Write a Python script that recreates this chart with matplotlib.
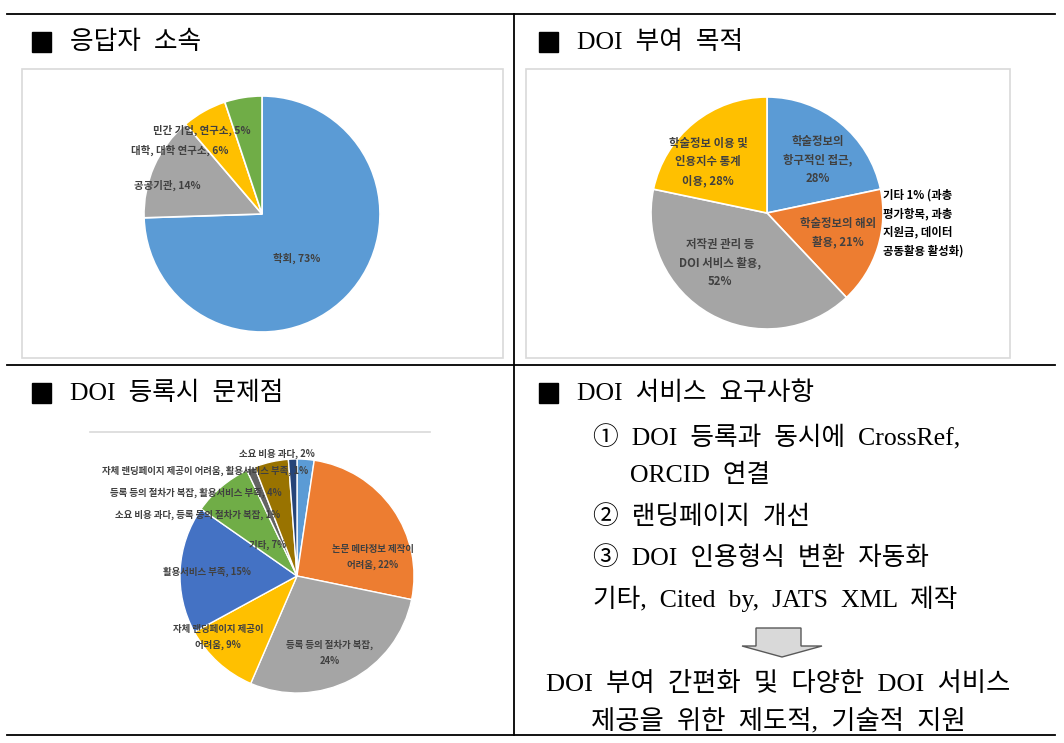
import matplotlib
matplotlib.use("Agg")
import matplotlib.pyplot as plt
from matplotlib.patches import Rectangle, Polygon

plt.rcParams['font.family'] = ['Noto Sans CJK KR', 'DejaVu Sans']

# ---------------- data ----------------
p1_labels = ['학회', '공공기관', '대학, 대학 연구소', '민간 기업, 연구소']
p1_values = [73, 14, 6, 5]

p2_labels = ['학술정보의\n항구적인 접근,\n28%', '학술정보의 해외\n활용, 21%',
             '저작권 관리 등\nDOI 서비스 활용,\n52%', '학술정보 이용 및\n인용지수 통계\n이용, 28%']
p2_values = [28, 21, 52, 28]
p2_note = '기타 1% (과총\n평가항목, 과총\n지원금, 데이터\n공동활용 활성화)'

p3_labels = ['소요 비용 과다', '논문 메타정보 제작이\n어려움', '등록 등의 절차가 복잡,\n',
             '자체 랜딩페이지 제공이\n어려움', '활용서비스 부족', '기타',
             '소요 비용 과다, 등록 등의 절차가 복잡', '등록 등의 절차가 복잡, 활용서비스 부족',
             '자체 랜딩페이지 제공이 어려움, 활용서비스 부족']
p3_values = [2, 22, 24, 9, 15, 7, 1, 4, 1]

headers = ['응답자 소속', 'DOI 부여 목적', 'DOI 등록시 문제점', 'DOI 서비스 요구사항']
req_lines = ['① DOI 등록과 동시에 CrossRef,', 'ORCID 연결', '② 랜딩페이지 개선',
             '③ DOI 인용형식 변환 자동화', '기타, Cited by, JATS XML 제작']
conclusion = ['DOI 부여 간편화 및 다양한 DOI 서비스', '제공을 위한 제도적, 기술적 지원']

# ---------------- styles / layout ----------------
W, H = 1064, 743
fig = plt.figure(figsize=(W / 100, H / 100), dpi=100)
fig.patch.set_facecolor('white')

ov = fig.add_axes([0, 0, 1, 1])
ov.set_xlim(0, W)
ov.set_ylim(H, 0)
ov.axis('off')
ov.set_zorder(10)
ov.patch.set_alpha(0)

office = {'blue': '#5B9BD5', 'orange': '#ED7D31', 'gray': '#A5A5A5', 'yellow': '#FFC000',
          'dblue': '#4472C4', 'green': '#70AD47', 'dgray': '#636363', 'olive': '#997300',
          'navy': '#264478'}
lab_col = '#404040'
serif = ['Liberation Serif', 'Noto Sans CJK KR']
big = 18.5


def wide(s):
    # Korean document typesetting uses wide word spacing
    return s.replace(' ', '  ')


def pie_axes(cx, cy, r):
    return fig.add_axes([(cx - r) / W, 1 - (cy + r) / H, 2 * r / W, 2 * r / H])


def finish(ax):
    ax.set_xlim(-1, 1)
    ax.set_ylim(-1, 1)
    ax.set_aspect('equal', adjustable='datalim')
    ax.axis('off')


# table lines
lw = 1.3
for y in (14, 365, 735):
    ov.plot([7, 1055], [y, y], color='black', lw=lw)
ov.plot([514, 514], [14, 735], color='black', lw=lw)

# headers
hdr_pos = [(32, 42), (539, 42), (32, 393), (539, 393)]
for (x, y), t in zip(hdr_pos, headers):
    ov.add_patch(Rectangle((x, y - 10), 19, 20, color='black'))
    ov.text(x + 38, y, wide(t), fontsize=big, family=serif, va='center', ha='left')

# chart boxes
for (x0, y0, x1, y1) in [(22, 69, 503, 358), (526, 69, 1010, 358)]:
    ov.add_patch(Rectangle((x0, y0), x1 - x0, y1 - y0, fill=False, ec='#D9D9D9', lw=1.2))
ov.plot([90, 430], [432, 432], color='#D9D9D9', lw=1.2)

# ---- pie 1 ----
ax1 = pie_axes(262, 214, 118)
ax1.pie(p1_values, startangle=90, counterclock=False,
        colors=[office['blue'], office['gray'], office['yellow'], office['green']],
        wedgeprops=dict(edgecolor='white', linewidth=1.2))
finish(ax1)
p1_pos = [(297, 258), (167, 185), (180, 150), (202, 130)]
for (x, y), lab, v in zip(p1_pos, p1_labels, p1_values):
    ov.text(x, y, f'{lab}, {v}%', fontsize=7.5, weight='bold', color=lab_col,
            ha='center', va='center')

# ---- pie 2 ----
ax2 = pie_axes(767, 213, 116)
ax2.pie(p2_values, startangle=90, counterclock=False,
        colors=[office['blue'], office['orange'], office['gray'], office['yellow']],
        wedgeprops=dict(edgecolor='white', linewidth=1.2))
finish(ax2)
p2_pos = [(818, 160), (838, 233), (720, 263), (708, 162)]
for (x, y), lab in zip(p2_pos, p2_labels):
    ov.text(x, y, lab, fontsize=8.2, weight='bold', color=lab_col,
            ha='center', va='center', linespacing=1.55)
ov.text(883, 223, p2_note, fontsize=8.2, weight='bold', color='black',
        ha='left', va='center', linespacing=1.55)

# ---- pie 3 ----
ax3 = pie_axes(297, 576, 117)
ax3.pie(p3_values, startangle=90, counterclock=False,
        colors=[office[k] for k in ['blue', 'orange', 'gray', 'yellow', 'dblue', 'green',
                                     'dgray', 'olive', 'navy']],
        wedgeprops=dict(edgecolor='white', linewidth=1.0))
finish(ax3)
p3_pos = [(277, 454, 'center'), (373, 557, 'center'), (330, 653, 'center'),
          (218, 637, 'center'), (207, 572, 'center'), (268, 545, 'center'),
          (280, 515, 'right'), (282, 493, 'right'), (308, 471, 'right')]
for (x, y, ha), lab, v in zip(p3_pos, p3_labels, p3_values):
    txt = f'{lab}{v}%' if lab.endswith('\n') else f'{lab}, {v}%'
    ov.text(x, y, txt, fontsize=6.8, weight='bold', color=lab_col,
            ha=ha, va='center', linespacing=1.7, multialignment='center')

# ---- requirements text ----
req_pos = [(593, 438), (630, 475), (593, 517), (593, 558), (593, 599)]
for (x, y), t in zip(req_pos, req_lines):
    ov.text(x, y, wide(t), fontsize=big, family=serif, ha='left', va='center')

arrow = Polygon([(756, 628), (801, 628), (801, 646), (822, 646), (782, 657),
                 (742, 646), (756, 646)], closed=True, fc='#D9D9D9', ec='#595959', lw=1)
ov.add_patch(arrow)

for y, t in zip([684, 721], conclusion):
    ov.text(778, y, wide(t), fontsize=19, family=serif, ha='center', va='center')

fig.savefig('out.png', dpi=100, facecolor='white')
